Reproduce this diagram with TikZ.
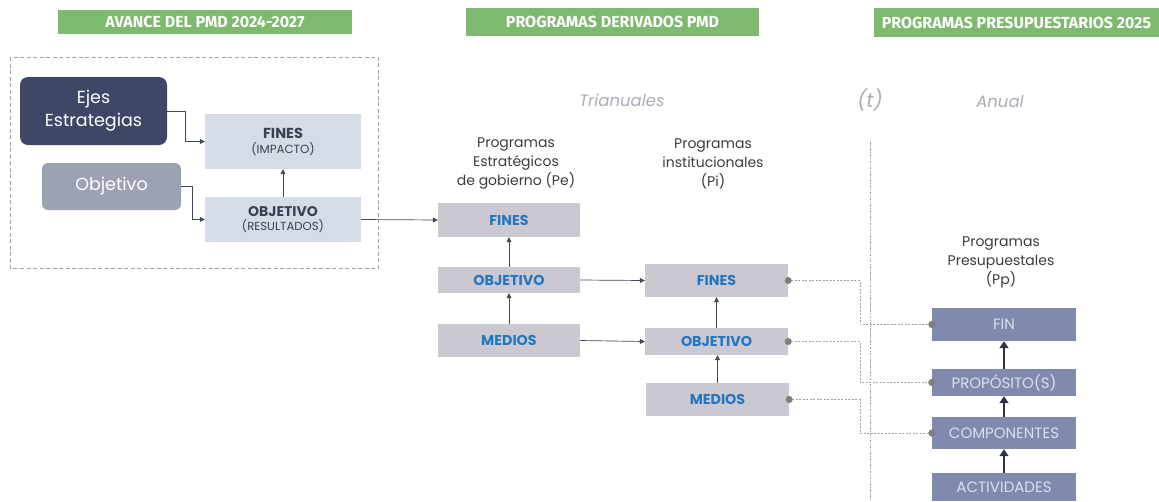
\documentclass[tikz,border=0pt]{standalone}
\usepackage{fontspec}
\setmainfont{Poppins}
\newfontfamily\hdrfont{Fira Sans}
\usetikzlibrary{arrows.meta}
\definecolor{hgreen}{HTML}{7DBA6E}
\definecolor{navy}{HTML}{3E4866}
\definecolor{objgray}{HTML}{9DA2B2}
\definecolor{lav}{HTML}{D6DBE8}
\definecolor{darktxt}{HTML}{3A4152}
\definecolor{pegray}{HTML}{CBC8D1}
\definecolor{bluetxt}{HTML}{2178C0}
\definecolor{ppblue}{HTML}{7F8AAE}
\definecolor{pptxt}{HTML}{DDE0EA}
\definecolor{arrdark}{HTML}{2E3446}
\definecolor{softgray}{HTML}{A8ACB8}
\definecolor{linegray}{HTML}{A3A3A3}
\definecolor{dotgray}{HTML}{7F7F7F}
\definecolor{lbltxt}{HTML}{3C3C3C}
\begin{document}
\begin{tikzpicture}[x=1pt,y=-1pt,
  hdr/.style={fill=hgreen,text=white,inner sep=0pt,font=\hdrfont\bfseries\fontsize{16}{18}\selectfont},
  bigbox/.style={rounded corners=8pt,text=white,inner sep=0pt,align=center,font=\fontsize{17.5}{23}\selectfont},
  lavbox/.style={fill=lav,inner sep=0pt,align=center,text=darktxt},
  pebox/.style={fill=pegray,inner sep=0pt,text=bluetxt,font=\bfseries\fontsize{14.3}{16}\selectfont},
  ppbox/.style={fill=ppblue,inner sep=0pt,text=pptxt,font=\fontsize{15}{16}\selectfont},
  plabel/.style={align=center,text=lbltxt,font=\fontsize{14}{19}\selectfont},
  period/.style={text=softgray,font=\itshape\fontsize{16.5}{18}\selectfont},
  arr/.style={draw=arrdark!90,line width=0.7pt,-{Triangle[length=5pt,width=5pt]}},
  thickarr/.style={draw=arrdark,line width=2.8pt,-{Triangle[length=7pt,width=9pt]}},
  dotcon/.style={draw=linegray,line width=0.7pt,dash pattern=on 2pt off 1.5pt,
    {Circle[length=7pt,fill=dotgray,color=dotgray]}-{Circle[length=7pt,fill=dotgray,color=dotgray]},
    shorten <=-3.5pt,shorten >=-3.5pt}
]
\useasboundingbox (0,0) rectangle (1159,501);

% headers
\node[hdr,minimum width=294pt,minimum height=24pt] (h1) at (205,22) {AVANCE DEL PMD 2024-2027};
\node[hdr,minimum width=293pt,minimum height=28pt] (h2) at (612.5,22) {PROGRAMAS DERIVADOS PMD};
\node[hdr,minimum width=285pt,minimum height=29pt] (h3) at (1016.5,22.5) {PROGRAMAS PRESUPUESTARIOS 2025};

% dashed frame
\draw[linegray,line width=0.8pt,dash pattern=on 4pt off 2.5pt] (10,57) rectangle (378,268);

% left block
\node[bigbox,fill=navy,minimum width=147pt,minimum height=68pt] (ejes) at (93.5,111) {Ejes\\Estrategias};
\node[bigbox,fill=objgray,rounded corners=6pt,minimum width=139pt,minimum height=47pt] (obj0) at (111.5,186.5) {Objetivo};
\node[lavbox,minimum width=156pt,minimum height=55pt] (fines0) at (283,141.5)
  {{\bfseries\fontsize{14.5}{16}\selectfont FINES}\\[3pt]{\fontsize{11.8}{14}\selectfont (IMPACTO)}};
\node[lavbox,minimum width=156pt,minimum height=45pt] (objr0) at (283,219.5)
  {{\bfseries\fontsize{14}{16}\selectfont OBJETIVO}\\[2pt]{\fontsize{11.7}{14}\selectfont (RESULTADOS)}};

\draw[arr] (ejes.east) -- (185,111) |- (fines0.west);
\draw[arr] (obj0.east) -- (192,186.5) |- (objr0.west);
\draw[arr] (objr0.north) -- (fines0.south);

% period labels
\node[period] (tri) at (622,100) {Trianuales};
\node[period,font=\itshape\fontsize{20}{22}\selectfont] (t) at (870,100) {(t)};
\node[period] (anual) at (1000,101) {Anual};
\coordinate (vtop) at (870,142);
\coordinate (vbot) at (870,501);
\draw[linegray,line width=0.7pt,dash pattern=on 2.5pt off 1.5pt on 0.7pt off 1.5pt] (vtop) -- (vbot);

% Pe column
\node[plabel] (pelbl) at (516,164) {Programas\\Estratégicos\\de gobierno (Pe)};
\node[pebox,minimum width=142pt,minimum height=34pt] (pefin) at (509,220) {FINES};
\node[pebox,minimum width=142pt,minimum height=26pt] (peobj) at (509,280) {OBJETIVO};
\node[pebox,minimum width=142pt,minimum height=33pt] (pemed) at (509,340.5) {MEDIOS};
\draw[arr] (objr0.east) -- (pefin.west);
\draw[arr] (peobj.north) -- (pefin.south);
\draw[arr] (pemed.north) -- (peobj.south);

% Pi column
\node[plabel] (pilbl) at (713,164) {Programas\\institucionales\\(Pi)};
\node[pebox,minimum width=143pt,minimum height=33pt] (pifin) at (716.5,280.5) {FINES};
\node[pebox,minimum width=143pt,minimum height=27pt] (piobj) at (716.5,341.5) {OBJETIVO};
\node[pebox,minimum width=143pt,minimum height=33pt] (pimed) at (717.5,399.5) {MEDIOS};
\draw[arr] (peobj.east) -- (pifin.west);
\draw[arr] (pemed.east) -- (piobj.west);
\draw[arr] (piobj.north) -- (piobj.north |- pifin.south);
\draw[arr] (pimed.north) -- (pimed.north |- piobj.south);

% Pp column
\node[plabel] (pplbl) at (1001,262) {Programas\\Presupuestales\\(Pp)};
\node[ppbox,minimum width=144pt,minimum height=33pt] (ppfin) at (1004,324.5) {FIN};
\node[ppbox,minimum width=144pt,minimum height=27pt] (ppprop) at (1004,382.5) {PROPÓSITO(S)};
\node[ppbox,minimum width=144pt,minimum height=32pt] (ppcomp) at (1004,433) {COMPONENTES};
\node[ppbox,minimum width=144pt,minimum height=28pt] (ppact) at (1004,487) {ACTIVIDADES};
\draw[thickarr] (ppprop.north) -- (ppfin.south);
\draw[thickarr] (ppcomp.north) -- (ppprop.south);
\draw[thickarr] (ppact.north) -- (ppcomp.south);

% dotted connectors
\draw[dotcon] (pifin.east) -- (860,280.5) |- (ppfin.west);
\draw[dotcon] (piobj.east) -- (860,341.5) |- (ppprop.west);
\draw[dotcon] (pimed.east) -- (860,399.5) |- (ppcomp.west);
\end{tikzpicture}
\end{document}
